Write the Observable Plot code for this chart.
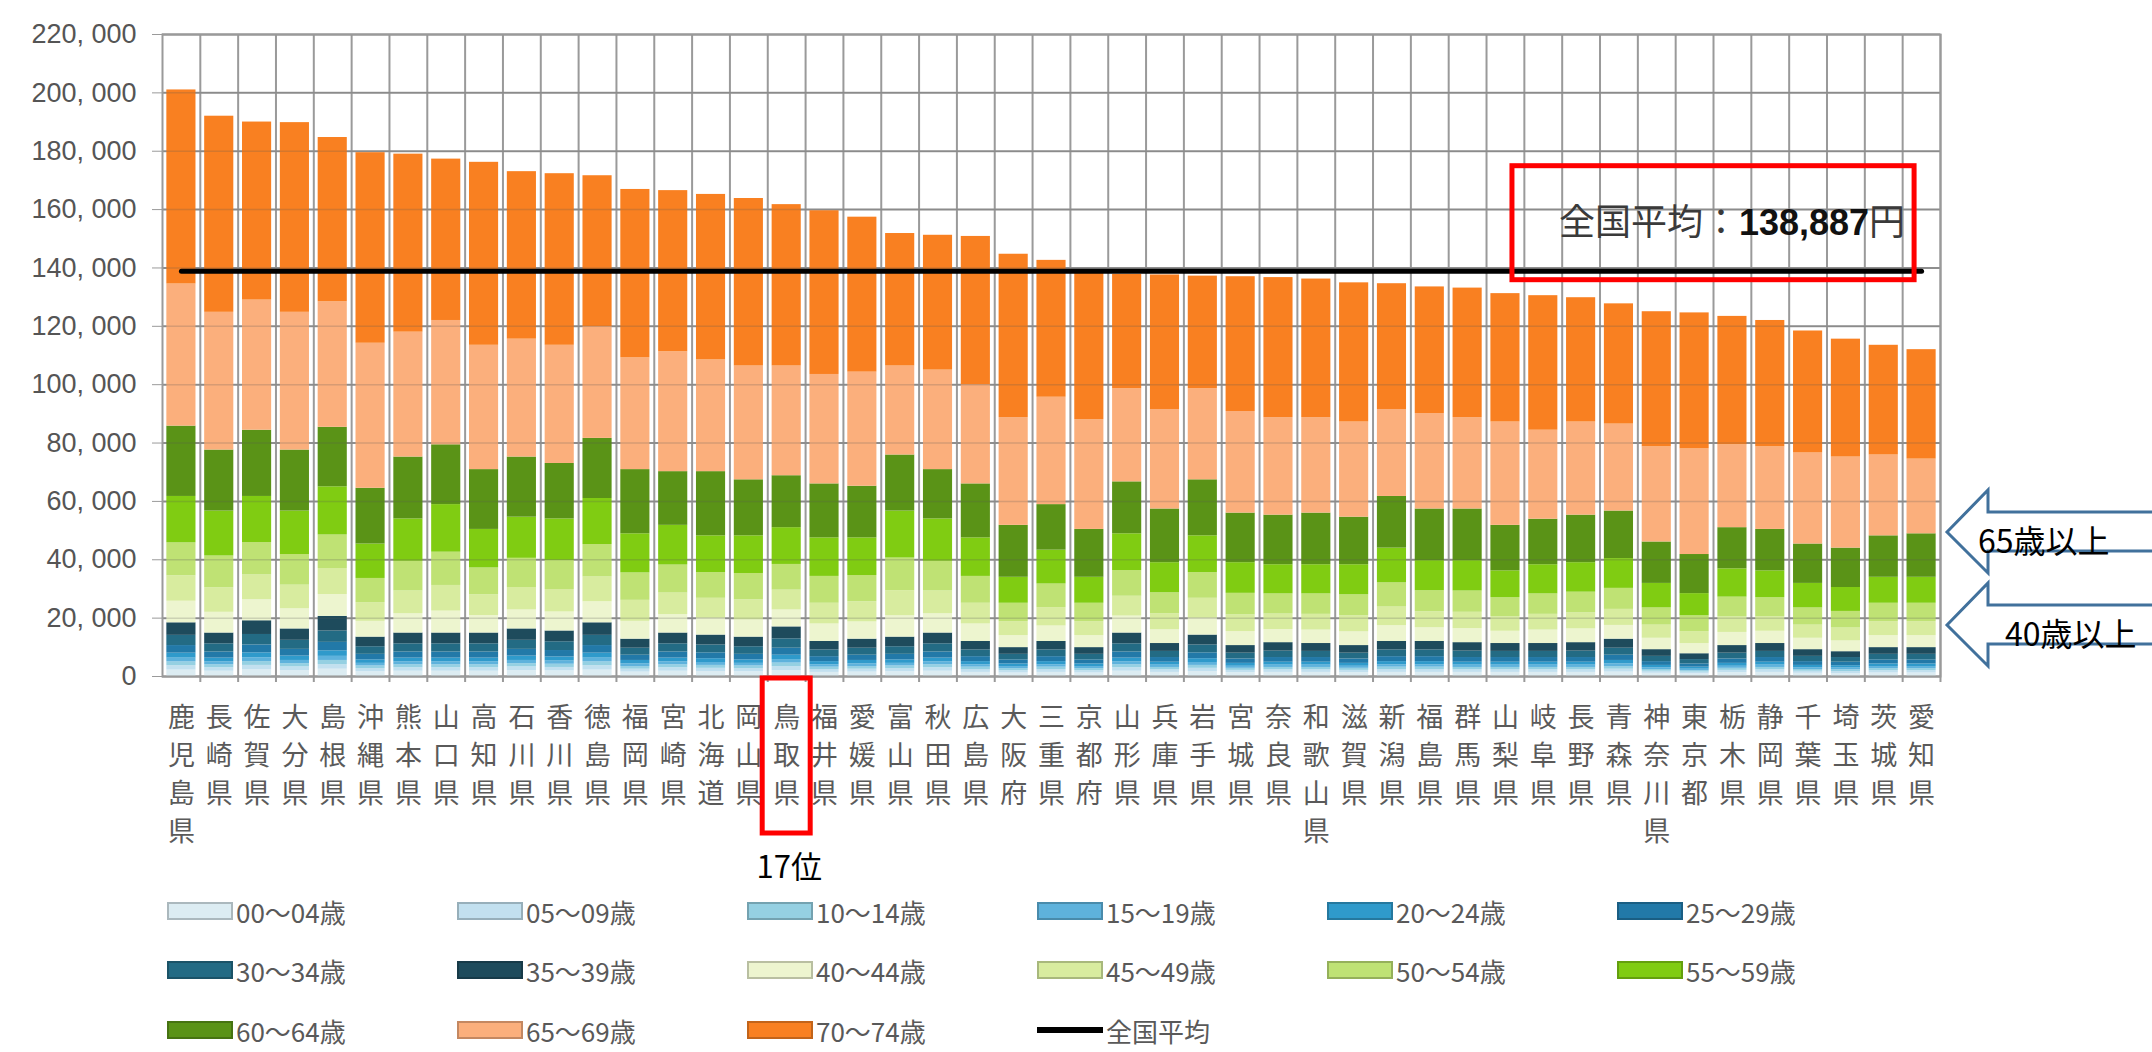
<!DOCTYPE html>
<html><head><meta charset="utf-8">
<script src="https://cdn.jsdelivr.net/npm/d3@7"></script>
<script src="https://cdn.jsdelivr.net/npm/@observablehq/plot@0.6"></script>
<style>
html,body{margin:0;padding:0;background:#fff;}
body{width:2152px;height:1052px;overflow:hidden;position:relative;font-family:"Noto Sans CJK JP",sans-serif;}
#chart{position:absolute;left:0;top:0;}
#legend{position:absolute;left:0;top:890px;width:2152px;height:162px;}
.item{position:absolute;display:flex;align-items:center;font-size:26px;color:#595959;height:30px;}
.sw{width:66px;height:18px;margin-right:3px;box-sizing:border-box;}
</style></head><body>
<div id="chart"></div><div id="legend"></div>
<script>
// ---- data (thousand yen per person) ----
const prefectures = ["鹿児島県","長崎県","佐賀県","大分県","島根県","沖縄県","熊本県","山口県","高知県","石川県","香川県","徳島県","福岡県","宮崎県","北海道","岡山県","鳥取県","福井県","愛媛県","富山県","秋田県","広島県","大阪府","三重県","京都府","山形県","兵庫県","岩手県","宮城県","奈良県","和歌山県","滋賀県","新潟県","福島県","群馬県","山梨県","岐阜県","長野県","青森県","神奈川県","東京都","栃木県","静岡県","千葉県","埼玉県","茨城県","愛知県"];
const ageGroups = ["00～04歳","05～09歳","10～14歳","15～19歳","20～24歳","25～29歳","30～34歳","35～39歳","40～44歳","45～49歳","50～54歳","55～59歳","60～64歳","65～69歳","70～74歳"];
const averageLabel = "全国平均";
const nationalAverage = 138887;
const yTicks = [0,20000,40000,60000,80000,100000,120000,140000,160000,180000,200000,220000];

const a0004 = [2.2,1.8,2.3,2.0,2.5,1.6,1.8,1.8,1.8,2.0,1.9,2.2,1.5,1.8,1.7,1.6,2.0,1.4,1.5,1.6,1.8,1.4,1.2,1.4,1.2,1.8,1.4,1.7,1.3,1.4,1.4,1.3,1.4,1.4,1.4,1.4,1.4,1.4,1.5,1.1,0.9,1.3,1.4,1.1,1.0,1.2,1.2];
const a0509 = [1.5,1.2,1.5,1.3,1.6,1.1,1.2,1.2,1.2,1.3,1.2,1.5,1.0,1.2,1.1,1.1,1.4,1.0,1.0,1.1,1.2,1.0,0.8,1.0,0.8,1.2,0.9,1.1,0.8,0.9,0.9,0.8,1.0,1.0,0.9,0.9,0.9,0.9,1.0,0.7,0.6,0.8,0.9,0.7,0.7,0.8,0.8];
const a1014 = [1.3,1.0,1.3,1.1,1.4,0.9,1.0,1.0,1.0,1.1,1.1,1.3,0.9,1.0,1.0,0.9,1.2,0.8,0.9,0.9,1.0,0.8,0.7,0.8,0.7,1.0,0.8,1.0,0.7,0.8,0.8,0.7,0.8,0.8,0.8,0.8,0.8,0.8,0.9,0.6,0.5,0.7,0.8,0.6,0.6,0.7,0.7];
const a1519 = [1.3,1.0,1.3,1.1,1.4,0.9,1.0,1.0,1.0,1.1,1.1,1.3,0.9,1.0,1.0,0.9,1.2,0.8,0.9,0.9,1.0,0.8,0.7,0.8,0.7,1.0,0.8,1.0,0.7,0.8,0.8,0.7,0.8,0.8,0.8,0.8,0.8,0.8,0.9,0.6,0.5,0.7,0.8,0.6,0.6,0.7,0.7];
const a2024 = [1.7,1.3,1.7,1.5,1.9,1.2,1.3,1.3,1.3,1.5,1.4,1.7,1.2,1.3,1.3,1.2,1.5,1.1,1.2,1.2,1.3,1.1,0.9,1.1,0.9,1.3,1.0,1.3,1.0,1.0,1.0,1.0,1.1,1.1,1.0,1.0,1.0,1.0,1.2,0.8,0.7,1.0,1.0,0.8,0.8,0.9,0.9];
const a2529 = [2.6,2.1,2.7,2.3,2.9,1.9,2.1,2.1,2.1,2.3,2.2,2.6,1.8,2.1,2.0,1.9,2.4,1.7,1.8,1.9,2.1,1.7,1.4,1.7,1.4,2.1,1.6,2.0,1.5,1.6,1.6,1.5,1.7,1.7,1.6,1.6,1.6,1.6,1.8,1.3,1.1,1.5,1.6,1.3,1.2,1.4,1.4];
const a3034 = [3.5,2.8,3.6,3.1,3.9,2.6,2.8,2.8,2.8,3.1,3.0,3.5,2.4,2.8,2.7,2.6,3.2,2.3,2.4,2.6,2.8,2.3,1.9,2.3,1.9,2.8,2.1,2.7,2.0,2.2,2.1,2.0,2.3,2.3,2.2,2.1,2.1,2.2,2.4,1.8,1.5,2.0,2.1,1.8,1.6,1.9,1.9];
const a3539 = [4.3,3.7,4.7,3.9,5.0,3.3,3.7,3.7,3.7,3.9,3.7,4.3,3.1,3.7,3.4,3.3,4.1,2.9,3.1,3.3,3.7,2.9,2.3,2.9,2.3,3.7,2.7,3.4,2.6,2.9,2.7,2.6,2.9,2.9,2.9,2.7,2.7,2.9,3.1,2.3,2.0,2.6,2.7,2.3,2.0,2.3,2.3];
const a4044 = [7.4,7.1,7.2,6.9,7.5,5.4,6.6,7.5,6.0,6.5,6.5,7.2,6.1,6.3,5.8,5.9,5.8,6.0,5.9,7.3,6.6,6.0,4.1,5.3,4.1,5.8,4.7,5.8,4.8,4.5,4.6,4.7,5.4,4.7,4.8,4.2,4.6,4.7,4.7,3.9,3.5,4.5,4.2,3.9,3.7,4.1,4.1];
const a4549 = [8.7,8.4,8.5,8.1,8.9,6.4,7.8,8.8,7.1,7.7,7.7,8.5,7.2,7.4,6.8,6.9,6.8,7.1,6.9,8.6,7.8,7.1,4.8,6.3,4.8,6.8,5.5,6.8,5.7,5.3,5.4,5.5,6.4,5.5,5.6,5.0,5.4,5.5,5.5,4.5,4.1,5.3,5.0,4.5,4.4,4.8,4.8];
const a5054 = [11.3,10.9,11.1,10.5,11.5,8.3,10.2,11.4,9.2,10.0,10.0,11.1,9.4,9.6,8.8,9.0,8.8,9.2,9.0,11.2,10.2,9.2,6.3,8.1,6.3,8.8,7.2,8.8,7.4,6.9,7.0,7.2,8.3,7.2,7.3,6.5,7.0,7.1,7.2,5.9,5.4,6.8,6.5,5.9,5.7,6.3,6.3];
const a5559 = [15.9,15.4,15.8,14.9,16.5,11.8,14.5,16.3,13.2,14.1,14.2,15.8,13.4,13.6,12.6,12.9,12.6,13.2,12.9,16.1,14.5,13.2,8.9,11.6,8.9,12.6,10.3,12.6,10.5,10.0,10.0,10.3,11.9,10.3,10.4,9.2,10.0,10.1,10.2,8.4,7.6,9.7,9.2,8.4,8.2,8.9,8.9];
const a6064 = [24.1,20.9,22.7,20.9,20.4,19.1,21.2,20.5,20.5,20.6,19.0,20.6,22.0,18.4,22.0,19.2,17.8,18.5,17.7,19.2,16.9,18.5,17.8,15.6,16.4,17.8,18.4,19.2,17.0,17.0,17.7,16.3,17.7,17.7,17.7,15.6,15.6,16.3,16.3,14.2,13.4,14.1,14.2,13.5,13.5,14.2,14.9];
const a6569 = [48.7,47.2,44.6,47.2,43.0,49.7,42.8,42.6,42.6,40.4,40.5,38.3,38.3,41.1,38.3,39.0,37.6,37.5,39.1,30.5,34.1,34.0,36.9,36.8,37.6,31.9,34.1,31.2,34.8,33.4,32.7,32.6,29.8,32.7,31.3,35.4,30.5,31.9,29.8,32.6,36.2,28.4,28.3,31.2,31.2,27.7,25.6];
const a7074 = [66.5,67.2,61.0,65.0,56.3,65.3,61.0,55.3,62.7,57.4,58.8,51.7,57.7,55.2,56.7,57.4,55.3,56.1,53.1,45.4,46.2,50.8,56.0,46.9,50.3,39.2,46.1,38.6,46.2,48.0,47.5,47.7,43.1,43.4,44.4,44.0,46.1,42.6,41.2,46.3,46.6,44.0,43.3,41.8,40.4,37.6,37.5];

const colors = ["#dcecf2","#c2e0ef","#95d0e2","#5eb2dc","#2f9acb","#2279a8","#236b84","#1e4b5c","#edf5cf","#d8ec9f","#bfe274","#80cc12","#5a9317","#fbaf7c","#f98021"];

// ---- table for the library ----
const series = [a0004,a0509,a1014,a1519,a2024,a2529,a3034,a3539,a4044,a4549,a5054,a5559,a6064,a6569,a7074];
const rows = [];
prefectures.forEach((p, i) => ageGroups.forEach((g, j) => rows.push({pref: p, age: g, value: Math.round(series[j][i] * 1000)})));

const grid = "#9a9a9a";
const chart = Plot.plot({
  width: 2152, height: 890,
  marginTop: 34, marginLeft: 162, marginRight: 212, marginBottom: 214,
  style: {fontFamily: "'Noto Sans CJK JP', sans-serif", background: "#fff", overflow: "visible"},
  x: {domain: prefectures, paddingInner: 0.23, paddingOuter: 0.115, label: null},
  y: {domain: [0, 220000], label: null},
  color: {type: "ordinal", domain: ageGroups, range: colors},
  marks: [
    Plot.ruleY(yTicks, {stroke: grid, strokeWidth: 2}),
    Plot.ruleX(prefectures, {x: d => d, dx: 18.9, stroke: grid, strokeWidth: 2, insetBottom: -6}),
    Plot.barY(rows, {x: "pref", y: "value", fill: "age", order: ageGroups}),
    Plot.ruleY(yTicks, {stroke: "#555", strokeOpacity: 0.22, strokeWidth: 1.5}),
    Plot.lineY(prefectures, {x: d => d, y: () => nationalAverage, stroke: "#000", strokeWidth: 5}),
    Plot.axisY({ticks: yTicks, tickFormat: d => d3.format(",")(d).replace(",", ", "), fontSize: 27, fontFamily: "Liberation Sans", tickSize: 10, tickPadding: 16, stroke: grid, fill: "#555"}),
    Plot.axisX({tickSize: 0, tickPadding: 24, tickFormat: d => [...d].join("\n"), fontSize: 27, lineHeight: 1.4, fill: "#5a5a5a"}),
    Plot.frame({stroke: grid, strokeWidth: 2})
  ]
});
document.getElementById("chart").appendChild(chart);

// ---- annotations positioned through the scales ----
const xs = chart.scale("x"), ys = chart.scale("y");
const cx = p => xs.apply(p) + xs.bandwidth / 2;
const svg = d3.select(chart);
const yAvg = ys.apply(nationalAverage);

const t = svg.append("text").attr("x", cx(prefectures[46]) - 16).attr("y", yAvg - 36)
  .attr("text-anchor", "end").attr("font-size", 36).attr("font-family", "'Noto Sans CJK JP', sans-serif");
t.append("tspan").attr("fill", "#3a3a3a").text(averageLabel + "：");
t.append("tspan").attr("fill", "#111").attr("font-weight", "bold").attr("font-family", "Liberation Sans").text(d3.format(",")(nationalAverage));
t.append("tspan").attr("fill", "#3a3a3a").text("円");

svg.append("rect").attr("x", cx(prefectures[35]) + 7).attr("y", yAvg - 105)
  .attr("width", cx(prefectures[46]) - 7 - (cx(prefectures[35]) + 7)).attr("height", 114)
  .attr("fill", "none").attr("stroke", "#ff0000").attr("stroke-width", 5);

const cT = cx("鳥取県");
svg.append("rect").attr("x", cT - 24).attr("y", ys.apply(0) + 2).attr("width", 48).attr("height", 155)
  .attr("fill", "none").attr("stroke", "#ff0000").attr("stroke-width", 5);
svg.append("text").attr("x", cT + 3).attr("y", 878).attr("text-anchor", "middle")
  .attr("font-size", 31).attr("fill", "#000").attr("font-family", "'Noto Sans CJK JP', sans-serif").text("17位");

function arrow(tipY, label, tx) {
  const tipX = 1947, headX = 1988, R = 2160;
  const pts = [[tipX, tipY], [headX, tipY - 42], [headX, tipY - 20], [R, tipY - 20], [R, tipY + 19], [headX, tipY + 19], [headX, tipY + 41]];
  svg.append("polygon").attr("points", pts.map(p => p.join(",")).join(" "))
    .attr("fill", "#fff").attr("stroke", "#41719c").attr("stroke-width", 3);
  svg.append("text").attr("x", tx).attr("y", tipY + 21).attr("text-anchor", "start").attr("font-size", 32).attr("fill", "#000")
    .attr("font-family", "'Noto Sans CJK JP', sans-serif").text(label);
}
arrow(532, "65歳以上", 1978);
arrow(625, "40歳以上", 2005);

// ---- legend (below the svg) ----
const legend = document.getElementById("legend");
const legendItems = ageGroups.map((g, i) => ({label: g, color: colors[i], line: false})).concat([{label: averageLabel, color: "#000", line: true}]);
const colX = [167, 457, 747, 1037, 1327, 1617], rowY = [6, 65, 125];
legendItems.forEach((it, i) => {
  const div = document.createElement("div");
  div.className = "item";
  div.style.left = colX[i % 6] + "px";
  div.style.top = rowY[Math.floor(i / 6)] + "px";
  const sw = document.createElement("div");
  sw.className = "sw";
  if (it.line) {
    sw.style.height = "6px"; sw.style.background = "#000";
  } else {
    sw.style.background = it.color;
    sw.style.border = "2px solid " + d3.color(it.color).darker(0.7).formatHex();
  }
  const tx = document.createElement("span");
  tx.textContent = it.label;
  div.appendChild(sw); div.appendChild(tx);
  legend.appendChild(div);
});
</script>
</body></html>
